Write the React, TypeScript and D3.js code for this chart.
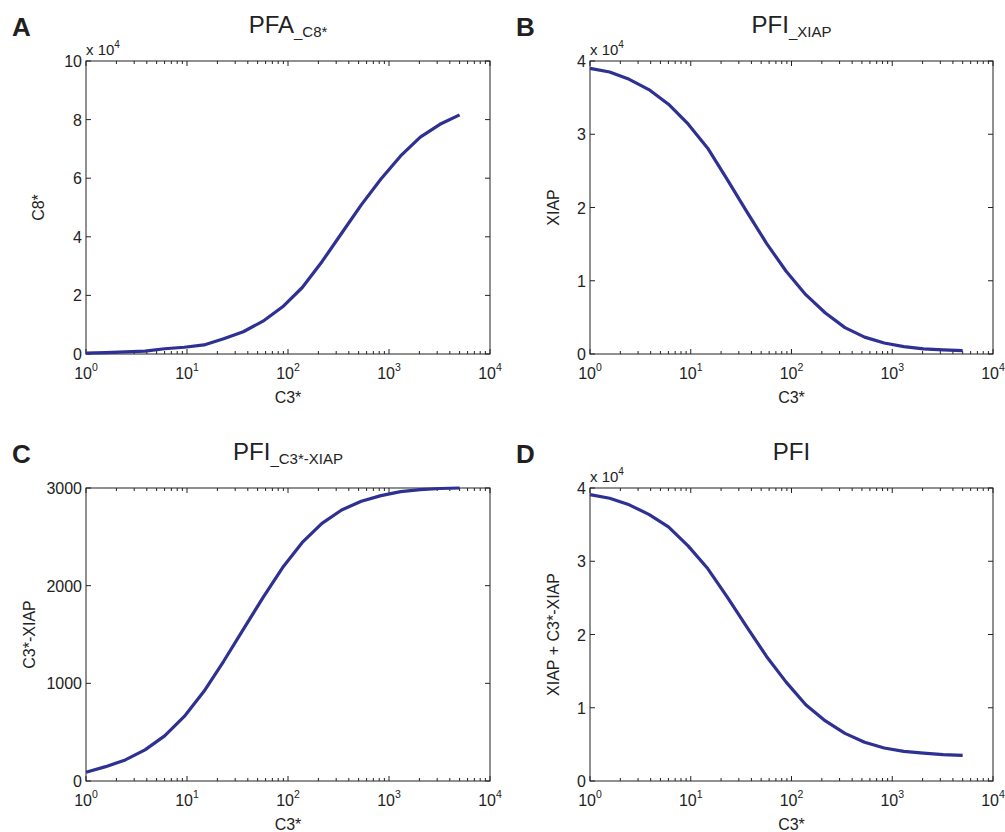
import React from "react";
import * as d3 from "d3";

// C3* concentrations (shared x for all panels)
const c3Values = [1, 1.566, 2.452, 3.838, 6.008, 9.406, 14.73, 23.06, 36.1, 56.52, 88.49, 138.5, 216.9, 339.5, 531.6, 832.2, 1303, 2040, 3194, 5000];

// series
const c8Values = [300, 500, 700, 1000, 1800, 2300, 3100, 5200, 7600, 11200, 16100, 22700, 31500, 41200, 50900, 59700, 67600, 74000, 78400, 81600];
const xiapValues = [39000, 38500, 37500, 36100, 34100, 31400, 28100, 23800, 19400, 15100, 11300, 8100, 5600, 3600, 2300, 1500, 1000, 700, 550, 450];
const c3xiapValues = [90, 147, 216, 319, 462, 661, 918, 1226, 1552, 1878, 2186, 2443, 2638, 2775, 2864, 2922, 2963, 2984, 2995, 3000];
const totalValues = [39100, 38600, 37700, 36400, 34700, 32100, 29000, 25100, 21000, 17000, 13500, 10400, 8200, 6500, 5300, 4500, 4050, 3800, 3600, 3500];

const yTicksA = [0, 2, 4, 6, 8, 10];
const yTicksB = [0, 1, 2, 3, 4];
const yTicksC = [0, 1000, 2000, 3000];
const yTicksD = [0, 1, 2, 3, 4];
const xTickExps = [0, 1, 2, 3, 4];

const FONT = "'Liberation Sans', Arial, Helvetica, sans-serif";
const LINE = "#2e3192";
const INK = "#222";

type PanelProps = {
  letter: string;
  title: string;
  sub?: string;
  ylabel: string;
  ylabelX: number;
  left: number;
  right: number;
  top: number;
  bottom: number;
  values: number[];
  yMax: number;
  yTicks: number[];
  yScaleFactor: number; // 1e4 if "x 10^4"
};

function Panel(p: PanelProps) {
  const x = d3.scaleLog().domain([1, 1e4]).range([p.left, p.right]);
  const y = d3.scaleLinear().domain([0, p.yMax]).range([p.bottom, p.top]);
  const line = d3
    .line<number>()
    .x((d, i) => x(c3Values[i]))
    .y(d => y(d));

  const allTicks = x.ticks();
  const cx = (p.left + p.right) / 2;
  const cy = (p.top + p.bottom) / 2;

  return (
    <g fontFamily={FONT} fill={INK}>
      <text x={p.left - 74} y={p.top - 25} fontSize={26} fontWeight="bold" fill="#231f20">
        {p.letter}
      </text>
      <text x={cx} y={p.top - 28} fontSize={24} textAnchor="middle">
        {p.title}
        {p.sub && (
          <tspan fontSize={15} dy={4}>
            {p.sub}
          </tspan>
        )}
      </text>
      {p.yScaleFactor > 1 && (
        <text x={p.left} y={p.top - 6} fontSize={15}>
          x 10
          <tspan fontSize={10} dy={-7}>
            4
          </tspan>
        </text>
      )}

      {/* frame */}
      <rect x={p.left} y={p.top} width={p.right - p.left} height={p.bottom - p.top} fill="none" stroke={INK} strokeWidth={1} />

      {/* x ticks, major and minor, top and bottom */}
      {allTicks.map(t => {
        const major = Math.abs(Math.log10(t) - Math.round(Math.log10(t))) < 1e-9;
        const len = major ? 5 : 3;
        const xp = x(t);
        return (
          <g key={"xt" + t} stroke={INK} strokeWidth={1}>
            <line x1={xp} x2={xp} y1={p.bottom} y2={p.bottom - len} />
            <line x1={xp} x2={xp} y1={p.top} y2={p.top + len} />
          </g>
        );
      })}
      {xTickExps.map(e => (
        <text key={"xl" + e} x={x(Math.pow(10, e))} y={p.bottom + 25} fontSize={16} textAnchor="middle">
          10
          <tspan fontSize={10.5} dy={-8}>
            {e}
          </tspan>
        </text>
      ))}

      {/* y ticks */}
      {p.yTicks.map(t => {
        const yp = y(t * p.yScaleFactor);
        return (
          <g key={"yt" + t}>
            <line x1={p.left} x2={p.left + 5} y1={yp} y2={yp} stroke={INK} />
            <line x1={p.right} x2={p.right - 5} y1={yp} y2={yp} stroke={INK} />
            <text x={p.left - 4} y={yp + 6} fontSize={16} textAnchor="end">
              {t}
            </text>
          </g>
        );
      })}

      <text x={cx} y={p.bottom + 49} fontSize={16} textAnchor="middle">
        C3*
      </text>
      <text transform={`translate(${p.ylabelX},${cy}) rotate(-90)`} fontSize={16} textAnchor="middle">
        {p.ylabel}
      </text>

      <path d={line(p.values) || ""} fill="none" stroke={LINE} strokeWidth={3.2} strokeLinejoin="round" />
    </g>
  );
}

export default function App() {
  return (
    <svg width={1005} height={832} style={{ position: "absolute", left: 0, top: 0, background: "#fff" }}>
      <rect width={1005} height={832} fill="#fff" />
      <Panel letter="A" title="PFA" sub="_C8*" ylabel="C8*" ylabelX={44} left={86} right={490} top={61} bottom={354}
        values={c8Values} yMax={100000} yTicks={yTicksA} yScaleFactor={1e4} />
      <Panel letter="B" title="PFI" sub="_XIAP" ylabel="XIAP" ylabelX={559} left={590} right={993} top={61} bottom={354}
        values={xiapValues} yMax={40000} yTicks={yTicksB} yScaleFactor={1e4} />
      <Panel letter="C" title="PFI" sub="_C3*-XIAP" ylabel="C3*-XIAP" ylabelX={35} left={86} right={490} top={488} bottom={781}
        values={c3xiapValues} yMax={3000} yTicks={yTicksC} yScaleFactor={1} />
      <Panel letter="D" title="PFI" ylabel="XIAP + C3*-XIAP" ylabelX={559} left={590} right={993} top={488} bottom={781}
        values={totalValues} yMax={40000} yTicks={yTicksD} yScaleFactor={1e4} />
    </svg>
  );
}
